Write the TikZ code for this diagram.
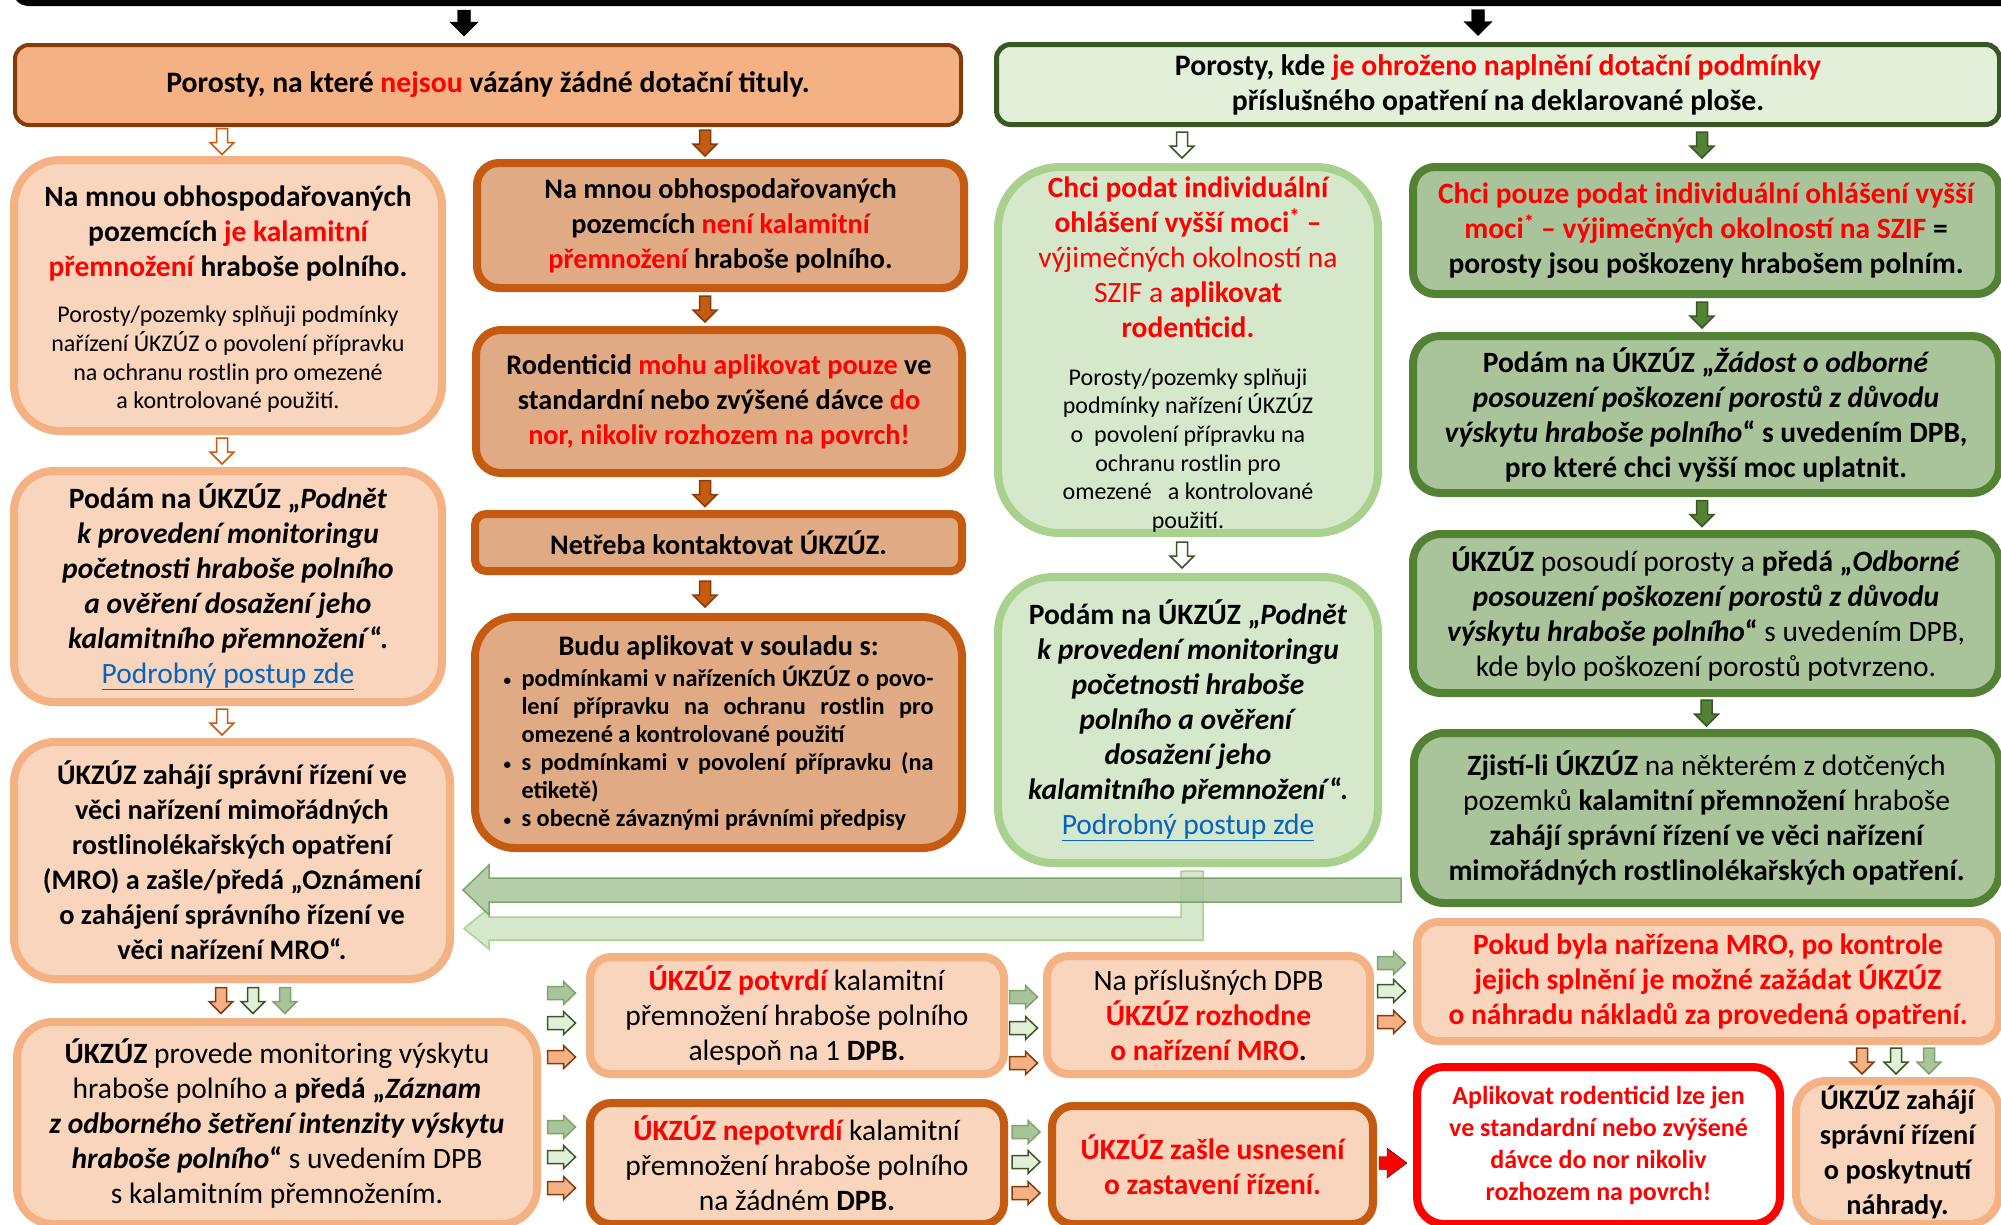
\documentclass[tikz,border=0pt]{standalone}
\usepackage{fontspec}
\setmainfont{Carlito}
\usetikzlibrary{calc}

\definecolor{cPeach}{HTML}{F8D5BC}
\definecolor{cLOr}{HTML}{F4B183}
\definecolor{cDOr}{HTML}{C55A11}
\definecolor{cBrown}{HTML}{843C0C}
\definecolor{cTan}{HTML}{E0AA85}
\definecolor{cPale}{HTML}{E2F0D9}
\definecolor{cLG}{HTML}{D5E8CB}
\definecolor{cLGb}{HTML}{A9D18E}
\definecolor{cMG}{HTML}{A9C49B}
\definecolor{cGline}{HTML}{7FA46B}
\definecolor{cDG}{HTML}{548235}
\definecolor{cDDG}{HTML}{385723}
\definecolor{cLink}{HTML}{0563C1}

\begin{document}
\begin{tikzpicture}[x = 1pt, y = -1pt,
	box/.style = {inner sep = 0pt, align = flush center, line width = 8pt, font = \fontsize{29.5}{35}\selectfont\bfseries},
	sbox/.style = {font = \fontsize{28.3}{35}\selectfont\bfseries},
	pbox/.style = {box, fill = cPeach, draw = cLOr},
	tbox/.style = {box, sbox, fill = cTan, draw = cDOr},
	qbox/.style = {box, fill = cPeach, draw = cDOr},
	gbox/.style = {box, fill = cLG, draw = cLGb},
	mbox/.style = {box, fill = cMG, draw = cDG},
	rbox/.style = {box, fill = white, draw = red},
	arr/.style = {line width = 1.5pt},
	ahol/.style = {arr, fill = white, draw = cDOr},
	afil/.style = {arr, fill = cDOr, draw = cBrown},
	olt/.style = {arr, fill = cLOr, draw = cBrown},
	ghol/.style = {arr, fill = white, draw = cDDG},
	gfil/.style = {arr, fill = cDG, draw = cDDG},
	gpale/.style = {arr, fill = cPale, draw = cDDG},
	glt/.style = {arr, fill = cMG, draw = cGline},
	barr/.style = {fill = black},
	rarr/.style = {fill = red}]

	% Definitions

	\def\rt#1{\textcolor{red}{#1}}
	\def\sm{\mdseries\fontsize{24}{28.7}\selectfont}
	\def\lnk{{\mdseries\color{cLink}\underline{Podrobný postup zde}}}
	\def\blt{\makebox[18pt][l]{\raisebox{1pt}{\fontsize{15}{15}\selectfont\textbullet}}}
	\def\ashaft{5.5}	% half shaft
	\def\ahead{12}		% half head
	\def\alen{12}		% head length

	% down block arrow: style, from, to, x offset
	\def\vconn#1#2#3#4{
		\path (#2) coordinate (cA) (#3) coordinate (cB);
		\path ($(cA -| cB)!0.5!(cB)$) coordinate (cM);
		\draw [#1] ($(cM)+(#4-\ashaft,-13)$) -- ($(cM)+(#4-\ashaft,13-\alen)$) -- ($(cM)+(#4-\ahead,13-\alen)$) -- ($(cM)+(#4,13)$)
			-- ($(cM)+(#4+\ahead,13-\alen)$) -- ($(cM)+(#4+\ashaft,13-\alen)$) -- ($(cM)+(#4+\ashaft,-13)$) -- cycle;
	}

	% right block arrow: style, from, to, y offset
	\def\hconn#1#2#3#4{
		\path (#2) coordinate (cA) (#3) coordinate (cB);
		\path ($(cA |- cB)!0.5!(cB)$) coordinate (cM);
		\draw [#1] ($(cM)+(-16,#4-\ashaft)$) -- ($(cM)+(12-\alen,#4-\ashaft)$) -- ($(cM)+(12-\alen,#4-\ahead)$) -- ($(cM)+(12,#4)$)
			-- ($(cM)+(12-\alen,#4+\ahead)$) -- ($(cM)+(12-\alen,#4+\ashaft)$) -- ($(cM)+(-16,#4+\ashaft)$) -- cycle;
	}

	\useasboundingbox (0,0) rectangle (2001,1224);
	\clip (0,0) rectangle (2001,1224);

	% Top bar

	\draw [line width = 6pt, rounded corners = 12pt] (16,-40) -- (16,3) -- (2040,3);
	\coordinate (bar) at (0,3);

	% Top boxes

	\node [box, fill = cLOr, draw = cBrown, line width = 4pt, rounded corners = 14pt, minimum width = 946pt, minimum height = 80pt, text width = 930pt, font = \fontsize{29.7}{35}\selectfont\bfseries] (topL) at (488,85)
		{Porosty, na které \rt{nejsou} vázány žádné dotační tituly.};
	\node [box, fill = cPale, draw = cDDG, line width = 5pt, rounded corners = 14pt, minimum width = 1003pt, minimum height = 80pt, text width = 990pt, font = \fontsize{29.7}{35}\selectfont\bfseries] (topR) at (1498,84.5)
		{Porosty, kde \rt{je ohroženo naplnění dotační podmínky}\\ příslušného opatření na deklarované ploše.};

	% Left column

	\node [pbox, rounded corners = 46pt, minimum width = 428pt, minimum height = 271pt, text width = 424pt] (L1) at (228,295.5)
		{\rule{0pt}{28pt}Na mnou obhospodařovaných\\ pozemcích \rt{je kalamitní}\\ \rt{přemnožení} hraboše polního.\par\vspace{18pt}\sm Porosty/pozemky splňuji podmínky\\ nařízení ÚKZÚZ o povolení přípravku\\ na ochranu rostlin pro omezené\\ a kontrolované použití.\par};
	\node [pbox, rounded corners = 40pt, minimum width = 428pt, minimum height = 231pt, text width = 424pt] (L2) at (228,586.5)
		{Podám na ÚKZÚZ „\textit{Podnět}\\ \textit{k provedení monitoringu}\\ \textit{početnosti hraboše polního}\\ \textit{a ověření dosažení jeho}\\ \textit{kalamitního přemnožení}“.\\ \lnk};
	\node [pbox, sbox, rounded corners = 41pt, minimum width = 436pt, minimum height = 237pt, text width = 430pt] (L3) at (232,860.5)
		{ÚKZÚZ zahájí správní řízení ve\\ věci nařízení mimořádných\\ rostlinolékařských opatření\\ (MRO) a zašle/předá „Oznámení\\ o zahájení správního řízení ve\\ věci nařízení MRO“.};
	\node [pbox, rounded corners = 36pt, minimum width = 520pt, minimum height = 202pt, text width = 515pt] (B1) at (277,1123)
		{ÚKZÚZ \textmd{provede monitoring výskytu}\\ \textmd{hraboše polního a} předá „\textit{Záznam}\\ \textit{z odborného šetření intenzity výskytu}\\ \textit{hraboše polního}“ \textmd{s uvedením DPB}\\ \textmd{s kalamitním přemnožením.}};

	% Middle column

	\node [tbox, rounded corners = 22pt, minimum width = 487pt, minimum height = 125pt, text width = 480pt] (M1) at (720.5,225.5)
		{Na mnou obhospodařovaných\\ pozemcích \rt{není kalamitní}\\ \rt{přemnožení} hraboše polního.};
	\node [tbox, rounded corners = 25pt, minimum width = 486pt, minimum height = 143pt, text width = 480pt] (M2) at (719,401.5)
		{Rodenticid \rt{mohu aplikovat pouze} ve\\ standardní nebo zvýšené dávce \rt{do}\\ \rt{nor, nikoliv rozhozem na povrch!}};
	\node [tbox, rounded corners = 11pt, minimum width = 487pt, minimum height = 57pt, text width = 480pt] (M3) at (718.5,542.5)
		{Netřeba kontaktovat ÚKZÚZ.};
	\node [tbox, rounded corners = 40pt, minimum width = 487pt, minimum height = 231pt, text width = 430pt, align = justify] (M4) at (718.5,732.5)
		{{\centering Budu aplikovat v souladu s:\par}\vspace{3pt}
		\fontsize{24.3}{28}\selectfont
		\hangindent = 18pt \hangafter = 1 \noindent\blt podmínkami v nařízeních ÚKZÚZ o povo-\linebreak lení přípravku na ochranu rostlin pro\linebreak omezené a kontrolované použití\par
		\hangindent = 18pt \hangafter = 1 \noindent\blt s podmínkami v povolení přípravku (na\linebreak etiketě)\par
		\hangindent = 18pt \hangafter = 1 \noindent\blt s obecně závaznými právními předpisy\par};

	% Bottom rows

	\node [pbox, rounded corners = 21pt, minimum width = 414pt, minimum height = 117pt, text width = 410pt] (P1) at (797,1015.5)
		{\rt{ÚKZÚZ potvrdí} \textmd{kalamitní}\\ \textmd{přemnožení hraboše polního}\\ \textmd{alespoň na 1} DPB.};
	\node [qbox, rounded corners = 21pt, minimum width = 414pt, minimum height = 121pt, text width = 410pt] (P2) at (797,1163.5)
		{\rt{ÚKZÚZ nepotvrdí} \textmd{kalamitní}\\ \textmd{přemnožení hraboše polního}\\ \textmd{na žádném} DPB.};
	\node [pbox, rounded corners = 21pt, minimum width = 323pt, minimum height = 118pt, text width = 318pt] (Q1) at (1208.5,1015)
		{\textmd{Na příslušných DPB}\\ \rt{ÚKZÚZ rozhodne}\\ \rt{o nařízení MRO}.};
	\node [qbox, rounded corners = 21pt, minimum width = 321pt, minimum height = 118pt, text width = 318pt] (Q2) at (1212.5,1165)
		{\rt{ÚKZÚZ zašle usnesení}\\ \rt{o zastavení řízení.}};
	\node [pbox, rounded corners = 21pt, minimum width = 582pt, minimum height = 119pt, text width = 578pt] (R1) at (1708,981.5)
		{\rt{Pokud byla nařízena MRO, po kontrole}\\ \rt{jejich splnění je možné zažádat ÚKZÚZ}\\ \rt{o náhradu nákladů za provedená opatření.}};
	\node [rbox, rounded corners = 27pt, minimum width = 363pt, minimum height = 157pt, text width = 358pt, font = \fontsize{26}{32}\selectfont\bfseries] (R2) at (1598.5,1145.5)
		{\rt{Aplikovat rodenticid lze jen}\\ \rt{ve standardní nebo zvýšené}\\ \rt{dávce do nor nikoliv}\\ \rt{rozhozem na povrch!}};
	\node [pbox, sbox, rounded corners = 30pt, minimum width = 203pt, minimum height = 143pt, text width = 200pt] (R3) at (1897.5,1152.5)
		{ÚKZÚZ zahájí\\ správní řízení\\ o poskytnutí\\ náhrady.};

	% Green columns

	\node [gbox, rounded corners = 62pt, minimum width = 380pt, minimum height = 366pt, text width = 376pt] (GL1) at (1188,350)
		{\rule{0pt}{30pt}\rt{Chci podat individuální}\\ \rt{ohlášení vyšší moci\textsuperscript{*} –}\\ \rt{\mdseries výjimečných okolností na}\\ \rt{\mdseries SZIF a} \rt{aplikovat}\\ \rt{rodenticid.}\par\vspace{19pt}\sm Porosty/pozemky splňuji\\ podmínky nařízení ÚKZÚZ\\ o\ \ povolení přípravku na\\ ochranu rostlin pro\\ omezené\ \ \ a kontrolované\\ použití.\par};
	\node [gbox, rounded corners = 55pt, minimum width = 380pt, minimum height = 286pt, text width = 376pt] (GL2) at (1188,720)
		{Podám na ÚKZÚZ „\textit{Podnět}\\ \textit{k provedení monitoringu}\\ \textit{početnosti hraboše}\\ \textit{polního a ověření}\\ \textit{dosažení jeho}\\ \textit{kalamitního přemnožení}“.\\ \lnk};
	\node [mbox, rounded corners = 22pt, minimum width = 586pt, minimum height = 127pt, text width = 582pt] (GR1) at (1706,230.5)
		{\rt{Chci pouze podat individuální ohlášení vyšší}\\ \rt{moci\textsuperscript{*} – výjimečných okolností na SZIF} =\\ porosty jsou poškozeny hrabošem polním.};
	\node [mbox, rounded corners = 27pt, minimum width = 586pt, minimum height = 157pt, text width = 582pt] (GR2) at (1706,414.5)
		{Podám na ÚKZÚZ „\textit{Žádost o odborné}\\ \textit{posouzení poškození porostů z důvodu}\\ \textit{výskytu hraboše polního}“ s uvedením DPB,\\ pro které chci vyšší moc uplatnit.};
	\node [mbox, rounded corners = 28pt, minimum width = 586pt, minimum height = 159pt, text width = 582pt] (GR3) at (1706,613.5)
		{ÚKZÚZ \textmd{posoudí porosty a} předá „\textit{Odborné}\\ \textit{posouzení poškození porostů z důvodu}\\ \textit{výskytu hraboše polního}“ \textmd{s uvedením DPB,}\\ \textmd{kde bylo poškození porostů potvrzeno.}};
	\node [mbox, rounded corners = 30pt, minimum width = 585pt, minimum height = 170pt, text width = 582pt] (GR4) at (1706.5,818)
		{Zjistí-li ÚKZÚZ \textmd{na některém z dotčených}\\ \textmd{pozemků} kalamitní přemnožení \textmd{hraboše}\\ zahájí správní řízení ve věci nařízení\\ mimořádných rostlinolékařských opatření.};

	% Long arrows back to MRO

	\coordinate (dky) at (0,890);
	\coordinate (lty) at (0,928.5);
	\draw [arr, fill = cLG, draw = cLGb] ($(GL2.south)+(-7,4)$) -- ($(GL2.south |- lty)+(-7,-11.5)$) -- ($(L3.east |- lty)+(35,-11.5)$) -- ($(L3.east |- lty)+(35,-20.5)$)
		-- ($(L3.east |- lty)+(10,0)$) -- ($(L3.east |- lty)+(35,20.5)$) -- ($(L3.east |- lty)+(35,11.5)$) -- ($(GL2.south |- lty)+(15,11.5)$) -- ($(GL2.south)+(15,4)$) -- cycle;
	\draw [arr, fill = cMG, draw = cGline, fill opacity = 0.85] ($(GR4.west |- dky)+(-9,-12)$) -- ($(L3.east |- dky)+(35,-12)$) -- ($(L3.east |- dky)+(35,-25)$)
		-- ($(L3.east |- dky)+(9,0)$) -- ($(L3.east |- dky)+(35,25)$) -- ($(L3.east |- dky)+(35,12)$) -- ($(GR4.west |- dky)+(-9,12)$) -- cycle;

	% Down arrows

	{\def\ashaft{6.5}\def\ahead{14}\def\alen{14}
	\vconn{barr}{bar}{topL.north}{-24}
	\vconn{barr}{bar}{topR.north}{-20}}

	\vconn{ahol}{topL.south}{L1.north}{-6}
	\vconn{ahol}{L1.south}{L2.north}{-6}
	\vconn{ahol}{L2.south}{L3.north}{-10}
	\vconn{olt}{L3.south}{B1.north}{-56}
	\vconn{gpale}{L3.south}{B1.north}{-24}
	\vconn{glt}{L3.south}{B1.north}{8}

	\vconn{afil}{topL.south}{M1.north}{-15.5}
	\vconn{afil}{M1.south}{M2.north}{-14}
	\vconn{afil}{M2.south}{M3.north}{-13.5}
	\vconn{afil}{M3.south}{M4.north}{-13.5}

	\vconn{ghol}{topR.south}{GL1.north}{-6}
	\vconn{ghol}{GL1.south}{GL2.north}{-6}
	\vconn{gfil}{topR.south}{GR1.north}{-4}
	\vconn{gfil}{GR1.south}{GR2.north}{-4}
	\vconn{gfil}{GR2.south}{GR3.north}{-4}
	\vconn{gfil}{GR3.south}{GR4.north}{0}

	\vconn{olt}{R1.south}{R3.north}{-35.5}
	\vconn{gpale}{R1.south}{R3.north}{-1.5}
	\vconn{glt}{R1.south}{R3.north}{31.5}

	% Side arrows

	{\def\ashaft{6.5}\def\ahead{11.5}
	\hconn{glt}{B1.east}{P1.west}{-22.5}
	\hconn{gpale}{B1.east}{P1.west}{7.5}
	\hconn{olt}{B1.east}{P1.west}{41.5}
	\hconn{glt}{B1.east}{P2.west}{-36.5}
	\hconn{gpale}{B1.east}{P2.west}{-6.5}
	\hconn{olt}{B1.east}{P2.west}{24.5}
	\hconn{glt}{P1.east}{Q1.west}{-18}
	\hconn{gpale}{P1.east}{Q1.west}{13}
	\hconn{olt}{P1.east}{Q1.west}{48}
	\hconn{glt}{P2.east}{Q2.west}{-33}
	\hconn{gpale}{P2.east}{Q2.west}{-3}
	\hconn{olt}{P2.east}{Q2.west}{28}
	\hconn{glt}{Q1.east}{R1.west}{-18.5}
	\hconn{gpale}{Q1.east}{R1.west}{9.5}
	\hconn{olt}{Q1.east}{R1.west}{40.5}}

	{\def\ashaft{6.5}\def\ahead{15}\def\alen{20}
	\hconn{rarr}{Q2.east}{R2.west}{17.5}}

\end{tikzpicture}
\end{document}
